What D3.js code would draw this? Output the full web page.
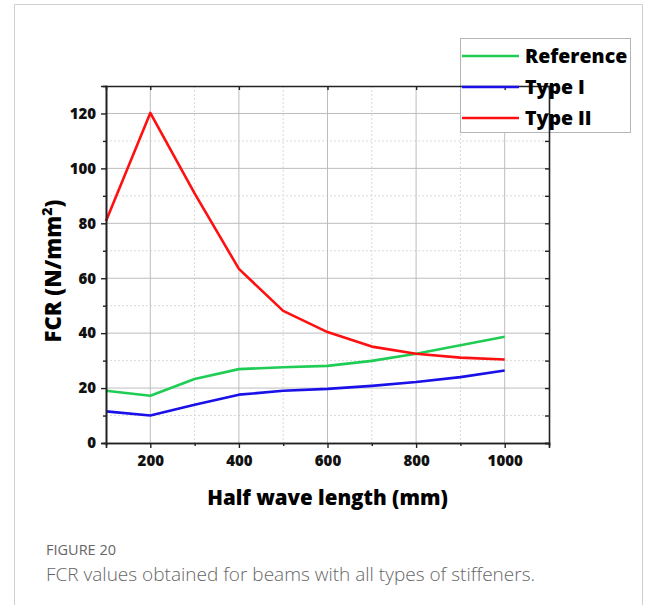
<!DOCTYPE html>
<html>
<head>
<meta charset="utf-8">
<script src="https://cdn.jsdelivr.net/npm/d3@7"></script>
<style>
  html, body { margin: 0; padding: 0; background: #fff; }
  svg { display: block; }
</style>
</head>
<body>
<div id="chart"></div>
<script>
// Half wave length (mm) and critical stress FCR (N/mm²) for each stiffener layout
const halfWave = [100, 200, 300, 400, 500, 600, 700, 800, 900, 1000];
const reference = [19.0, 17.2, 23.3, 26.9, 27.6, 28.1, 29.9, 32.5, 35.6, 38.7];
const typeI = [11.5, 10.0, 13.9, 17.6, 19.0, 19.7, 20.8, 22.2, 24.0, 26.4];
const typeII = [80.8, 120.2, 90.9, 63.4, 48.1, 40.4, 35.1, 32.5, 31.1, 30.4];

const seriesNames = ["Reference", "Type I", "Type II"];
const seriesColors = ["#1fcd55", "#1a10e8", "#ff1010"];
const seriesValues = [reference, typeI, typeII];

const xMajorTicks = [200, 400, 600, 800, 1000];
const xMinorTicks = [300, 500, 700, 900];
const yMajorTicks = [0, 20, 40, 60, 80, 100, 120];
const yMinorTicks = [10, 30, 50, 70, 90, 110];

const W = 656, H = 605;
const plot = { left: 106, right: 549, top: 86, bottom: 443 };

const svg = d3.select("#chart").append("svg")
  .attr("width", W).attr("height", H);

// Figure panel outline
svg.append("path")
  .attr("d", `M14.5,${H} V4.5 H642.5 V${H}`)
  .attr("fill", "none").attr("stroke", "#cfcfcf").attr("stroke-width", 1);

const x = d3.scaleLinear().domain([100, 1100]).range([plot.left, plot.right]);
const y = d3.scaleLinear().domain([0, 130]).range([plot.bottom, plot.top]);

const heavy = "'Open Sans', 'DejaVu Sans', sans-serif";

// Grid: dotted minor lines, solid major lines
const grid = svg.append("g");
grid.selectAll(".gxm").data(xMinorTicks).join("line")
  .attr("x1", d => x(d)).attr("x2", d => x(d))
  .attr("y1", plot.top).attr("y2", plot.bottom)
  .attr("stroke", "#d9d9d9").attr("stroke-dasharray", "2,2");
grid.selectAll(".gym").data(yMinorTicks).join("line")
  .attr("y1", d => y(d)).attr("y2", d => y(d))
  .attr("x1", plot.left).attr("x2", plot.right)
  .attr("stroke", "#d9d9d9").attr("stroke-dasharray", "2,2");
grid.selectAll(".gx").data(xMajorTicks).join("line")
  .attr("x1", d => x(d)).attr("x2", d => x(d))
  .attr("y1", plot.top).attr("y2", plot.bottom)
  .attr("stroke", "#bdbdbd");
grid.selectAll(".gy").data(yMajorTicks.filter(d => d > 0)).join("line")
  .attr("y1", d => y(d)).attr("y2", d => y(d))
  .attr("x1", plot.left).attr("x2", plot.right)
  .attr("stroke", "#bdbdbd");

// Series lines
const line = d3.line().x((d, i) => x(halfWave[i])).y(d => y(d));
svg.append("g").selectAll("path").data(seriesValues).join("path")
  .attr("d", d => line(d))
  .attr("fill", "none")
  .attr("stroke", (d, i) => seriesColors[i])
  .attr("stroke-width", 2.6)
  .attr("stroke-linejoin", "round");

// Legend box (frame lines are drawn over it, labels on top)
const legend = { x: 460.5, y: 38.5, w: 170, h: 94 };
svg.append("rect")
  .attr("x", legend.x).attr("y", legend.y)
  .attr("width", legend.w).attr("height", legend.h)
  .attr("fill", "#fff").attr("stroke", "#b5b5b5").attr("stroke-width", 1);

// Axes
function styleAxis(g) {
  g.select(".domain").attr("stroke", "#222").attr("stroke-width", 1.6);
  g.selectAll(".tick line").attr("stroke", "#222").attr("stroke-width", 1.4);
  g.selectAll(".tick text")
    .attr("font-family", heavy).attr("font-weight", 800)
    .attr("font-size", 15).attr("fill", "#111");
}

// minor ticks (unlabelled)
svg.append("g").attr("transform", `translate(0,${plot.bottom})`)
  .call(d3.axisBottom(x).tickValues(xMinorTicks).tickSize(3).tickFormat(""))
  .call(styleAxis);
svg.append("g").attr("transform", `translate(${plot.left},0)`)
  .call(d3.axisLeft(y).tickValues(yMinorTicks).tickSize(3).tickFormat(""))
  .call(styleAxis);

svg.append("g").attr("transform", `translate(0,${plot.bottom})`)
  .call(d3.axisBottom(x).tickValues(xMajorTicks).tickSize(5).tickPadding(7).tickFormat(d3.format("d")))
  .call(styleAxis);
svg.append("g").attr("transform", `translate(${plot.left},0)`)
  .call(d3.axisLeft(y).tickValues(yMajorTicks).tickSize(5).tickPadding(5).tickFormat(d3.format("d")))
  .call(styleAxis);

// mirrored frame axes with inward ticks
svg.append("g").attr("transform", `translate(0,${plot.top})`)
  .call(d3.axisTop(x).tickValues(xMajorTicks).tickSize(-4).tickFormat(""))
  .call(styleAxis);
svg.append("g").attr("transform", `translate(${plot.right},0)`)
  .call(d3.axisRight(y).tickValues(yMajorTicks.concat(yMinorTicks)).tickSize(-4).tickFormat(""))
  .call(styleAxis);

// Legend entries
const le = svg.append("g");
seriesNames.forEach((name, i) => {
  const cy = 56 + i * 31;
  le.append("line")
    .attr("x1", 462).attr("x2", 519).attr("y1", cy).attr("y2", cy)
    .attr("stroke", seriesColors[i]).attr("stroke-width", 2.6);
  le.append("text")
    .attr("x", 525).attr("y", cy + 7)
    .attr("font-family", heavy).attr("font-weight", 800)
    .attr("font-size", 19.5).attr("fill", "#000")
    .text(name);
});

// Axis titles
svg.append("text")
  .attr("x", (plot.left + plot.right) / 2).attr("y", 505)
  .attr("text-anchor", "middle")
  .attr("font-family", heavy).attr("font-weight", 800)
  .attr("font-size", 20.5).attr("fill", "#000")
  .text("Half wave length (mm)");

const yt = svg.append("text")
  .attr("transform", `translate(61,271) rotate(-90)`)
  .attr("text-anchor", "middle")
  .attr("font-family", heavy).attr("font-weight", 800)
  .attr("font-size", 22).attr("fill", "#000");
yt.append("tspan").text("FCR (N/mm");
yt.append("tspan").attr("font-size", 14).attr("dy", -9).text("2");
yt.append("tspan").attr("dy", 9).text(")");

// Caption
svg.append("text")
  .attr("x", 46).attr("y", 555)
  .attr("font-family", "'Open Sans', sans-serif").attr("font-weight", 400)
  .attr("font-size", 14.5).attr("fill", "#666")
  .text("FIGURE 20");
svg.append("text")
  .attr("x", 46).attr("y", 581)
  .attr("font-family", "'Open Sans', sans-serif").attr("font-weight", 300)
  .attr("font-size", 19).attr("fill", "#666")
  .text("FCR values obtained for beams with all types of stiffeners.");
</script>
</body>
</html>
